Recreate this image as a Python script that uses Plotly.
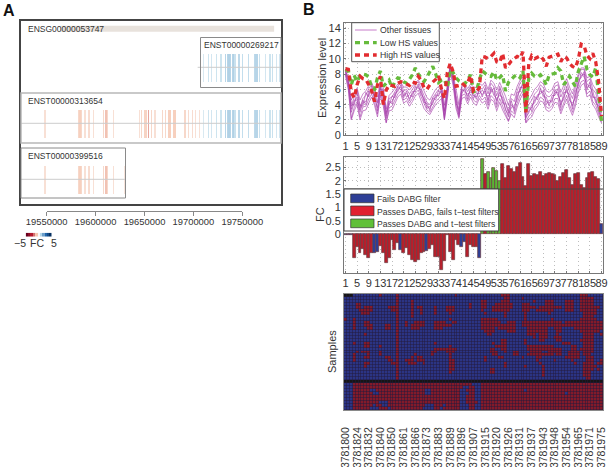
import plotly.graph_objects as go

W, H = 610, 467
FONT = "Liberation Sans"

# ---------- Panel A data ----------
gene_name = "ENSG00000053747"
gene_span = [19564000, 19782000]
tx_names = ["ENST00000269217", "ENST00000313654", "ENST00000399516"]
tx_spans = [[19704000, 19789000], [19523800, 19789000], [19523800, 19630000]]
tx_tracks = [3, 2, 1]
axis_ticks_a = [19550000, 19600000, 19650000, 19700000, 19750000]

exons_left = [19548260, 19582270, 19583970, 19585670, 19589075, 19593160, 19597580,
              19607780, 19610500, 19612200, 19617980]
fc_left = [-0.6, -0.8, -1.0, -0.8, -0.6, -0.7, -0.6, -0.8, -1.2, -0.8, -0.6]
exons_mid = [19644510, 19646890, 19650290, 19651990, 19653700, 19657100, 19660500,
             19668320, 19671040, 19674100, 19675800, 19679200, 19680900,
             19691100, 19694500, 19698580, 19701980, 19705720]
fc_mid = [-0.6, -0.8, -0.9, -0.9, -1.6, -0.8, -0.6, -0.8, -0.8, -1.0, -1.0, -1.0, -1.0,
          -0.8, -0.7, -0.7, -0.6, -0.6]
exons_right = [19709810, 19714910, 19718310, 19723410, 19727830, 19732590, 19734290,
               19735990, 19737690, 19739390, 19740420, 19742120, 19746200, 19749940,
               19755720, 19761840, 19763540, 19765240, 19766940, 19773400, 19777820,
               19780540, 19784620, 19788020]
fc_right = [0.6, 0.8, 0.7, 0.8, 0.8, 1.2, 1.2, 1.3, 1.2, 1.2, 1.3, 0.9, 1.1, 1.0,
            1.0, 1.1, 1.2, 1.2, 0.9, 0.7, 0.8, 0.9, 0.7, 0.7]
exons_extra = [19629500]
fc_extra = [-0.5]
fc_scale_values = [-5, -4, -3, -2, -1, 0, 1, 2, 3, 4, 5]

# ---------- Panel B data ----------
probe_index = list(range(1, 90))
tick_index = [1, 5, 9, 13, 17, 21, 25, 29, 33, 37, 41, 45, 49, 53, 57, 61, 65, 69, 73, 77, 81, 85, 89]
probe_ids = ["3781800", "3781824", "3781832", "3781840", "3781850", "3781861", "3781866", "3781873",
             "3781883", "3781889", "3781896", "3781907", "3781915", "3781920", "3781926", "3781931",
             "3781937", "3781943", "3781948", "3781954", "3781965", "3781971", "3781975"]

low_hs = [8.6, 8.4, 6.6, 7.8, 7.0, 7.8, 8.0, 7.9, 7.6, 6.2,
          6.0, 7.5, 8.4, 6.4, 6.8, 7.2, 6.2, 7.0, 7.5, 7.4,
          7.0, 6.8, 7.3, 7.9, 8.8, 8.0, 7.5, 7.0, 7.6, 8.2,
          9.0, 8.0, 6.9, 7.2, 7.3, 6.2, 8.6, 8.2, 7.5, 7.1,
          6.9, 6.7, 7.3, 7.9, 5.7, 5.8, 7.2, 8.4, 8.1, 7.8,
          7.7, 8.3, 7.2, 7.6, 7.9, 5.8, 6.9, 7.3, 7.7, 7.9,
          7.5, 8.4, 3.0, 7.5, 8.1, 7.7, 7.6, 7.9, 7.4, 6.6,
          7.9, 8.0, 8.1, 8.8, 8.4, 6.6, 7.2, 7.7, 7.0, 6.4,
          8.3, 9.4, 10.3, 8.6, 7.9, 7.6, 8.8, 5.3, 1.8]
high_hs = [8.7, 8.6, 5.6, 4.9, 6.6, 7.7, 7.4, 7.3, 6.6, 5.8,
           4.4, 6.6, 7.7, 4.0, 5.9, 6.6, 6.5, 6.4, 6.8, 7.0,
           6.9, 6.7, 6.5, 7.0, 6.8, 7.7, 7.2, 6.2, 6.0, 6.6,
           6.9, 7.3, 7.8, 6.0, 4.8, 8.2, 9.4, 8.3, 6.4, 6.5,
           6.8, 6.5, 6.9, 7.8, 5.7, 5.7, 6.2, 10.3, 10.2, 10.0,
           10.3, 10.7, 9.6, 9.5, 10.7, 8.8, 9.2, 9.7, 10.0, 10.3,
           10.1, 10.9, 3.0, 9.4, 10.4, 10.0, 10.2, 10.4, 9.9, 9.0,
           10.2, 10.3, 10.5, 10.6, 9.6, 10.3, 10.1, 9.4, 9.0, 8.8,
           9.9, 11.9, 11.7, 10.4, 10.0, 10.7, 9.6, 7.0, 2.5]

tissue_a = [8.4, 7.0, 3.0, 4.3, 5.0, 3.0, 4.3, 4.4, 5.4, 6.0,
            5.0, 3.6, 6.2, 5.0, 2.2, 4.2, 4.4, 5.2, 6.0, 6.3,
            5.2, 5.5, 4.8, 5.4, 6.0, 6.4, 5.6, 4.6, 3.8, 3.5,
            4.4, 5.0, 5.4, 5.8, 2.6, 5.6, 8.9, 7.4, 4.6, 2.8,
            5.8, 5.9, 5.1, 5.9, 5.2, 5.0, 5.8, 5.3, 5.8, 4.6,
            6.0, 5.6, 4.5, 5.6, 4.6, 3.6, 2.4, 4.0, 3.5, 5.0,
            6.0, 6.6, 2.2, 3.2, 3.6, 4.6, 5.0, 5.8, 5.5, 4.4,
            4.2, 4.6, 5.6, 5.6, 4.0, 5.0, 6.0, 4.8, 3.8, 5.2,
            6.8, 7.8, 8.0, 6.2, 6.6, 5.2, 4.6, 3.4, 2.0]
tissue_b = [8.2, 6.6, 3.8, 5.0, 5.6, 3.6, 4.8, 5.2, 6.1, 6.6,
            5.6, 4.2, 6.8, 5.6, 2.8, 4.8, 5.0, 5.8, 6.4, 6.8,
            5.8, 6.0, 5.4, 6.0, 6.6, 7.0, 6.2, 5.2, 4.3, 4.0,
            4.9, 5.5, 6.0, 6.3, 3.2, 6.2, 9.2, 7.8, 5.2, 3.4,
            6.3, 6.4, 5.7, 6.4, 5.8, 5.6, 6.4, 6.0, 6.6, 5.4,
            6.8, 6.3, 5.2, 6.4, 5.4, 4.4, 3.2, 4.8, 4.4, 5.8,
            6.8, 7.3, 3.0, 4.0, 4.6, 5.4, 5.8, 6.6, 6.2, 5.2,
            5.0, 5.4, 6.4, 6.6, 5.0, 5.9, 6.9, 5.7, 4.8, 6.2,
            7.6, 8.6, 8.6, 7.0, 7.4, 6.0, 5.5, 4.2, 2.5]
tissue_c = [8.0, 6.2, 2.2, 3.6, 4.4, 2.4, 3.7, 3.8, 4.7, 5.4,
            4.3, 2.8, 5.6, 4.3, 1.7, 3.6, 3.8, 4.6, 5.4, 5.8,
            4.6, 4.9, 4.2, 4.8, 5.5, 5.9, 5.0, 4.0, 3.3, 3.0,
            3.8, 4.4, 4.8, 5.2, 2.1, 5.0, 8.5, 6.9, 3.9, 2.4,
            5.2, 5.4, 4.5, 5.4, 4.6, 4.3, 5.2, 4.6, 5.0, 3.9,
            5.2, 4.8, 3.7, 4.8, 3.8, 2.9, 1.9, 3.2, 2.8, 4.2,
            5.2, 5.9, 1.7, 2.5, 2.9, 3.8, 4.2, 5.0, 4.7, 3.7,
            3.5, 3.9, 4.8, 4.8, 3.2, 4.2, 5.2, 4.0, 3.0, 4.3,
            6.0, 7.0, 7.2, 5.4, 5.8, 4.4, 3.9, 2.8, 1.7]
tissue_d = [8.5, 7.3, 4.2, 3.9, 5.9, 3.9, 3.8, 5.6, 5.0, 6.5,
            4.6, 4.4, 6.0, 5.9, 3.0, 3.9, 5.1, 4.9, 6.4, 5.9,
            5.7, 5.0, 5.3, 5.0, 6.4, 6.1, 6.0, 4.3, 4.2, 3.2,
            4.9, 4.6, 5.9, 5.4, 3.1, 5.2, 8.8, 7.7, 4.2, 3.2,
            5.4, 6.3, 4.7, 6.3, 4.8, 5.5, 5.4, 5.9, 5.4, 5.1,
            5.6, 6.2, 4.1, 6.1, 4.2, 4.2, 2.9, 4.5, 3.1, 5.6,
            5.7, 7.0, 2.6, 3.7, 3.2, 5.1, 4.6, 6.2, 5.0, 5.0,
            3.8, 5.2, 5.2, 6.1, 3.6, 5.6, 5.6, 5.4, 3.4, 5.8,
            6.4, 8.2, 7.6, 6.7, 6.2, 5.8, 4.2, 3.9, 1.9]
tissue_e = [8.3, 6.8, 3.4, 4.6, 4.6, 3.3, 4.6, 4.0, 5.8, 5.6,
            5.3, 3.2, 6.5, 4.7, 2.5, 4.5, 4.1, 5.5, 5.7, 6.6,
            4.9, 5.8, 4.5, 5.7, 5.7, 6.7, 5.3, 4.9, 3.5, 3.8,
            4.1, 5.3, 5.1, 6.1, 2.3, 5.9, 9.0, 7.1, 5.0, 2.6,
            6.1, 5.6, 5.4, 5.6, 5.5, 4.7, 6.2, 5.0, 6.2, 4.2,
            6.3, 5.2, 4.8, 5.2, 5.0, 3.3, 2.7, 3.6, 3.9, 4.6,
            6.3, 6.2, 2.4, 2.9, 4.0, 4.2, 5.3, 5.4, 5.9, 4.0,
            4.6, 4.3, 6.0, 5.2, 4.4, 4.6, 6.4, 4.5, 4.2, 4.8,
            7.2, 7.5, 8.3, 5.9, 7.0, 4.9, 5.0, 3.1, 2.2]
tissue_f = [8.6, 7.5, 4.6, 5.5, 6.2, 4.6, 5.4, 5.8, 6.5, 6.9,
            6.0, 5.0, 7.0, 6.2, 3.4, 5.2, 5.6, 6.2, 6.7, 6.9,
            6.3, 6.3, 5.9, 6.4, 6.9, 7.2, 6.6, 5.8, 4.9, 4.6,
            5.4, 6.0, 6.4, 6.6, 3.9, 6.6, 9.3, 8.0, 5.8, 4.0,
            6.6, 6.7, 6.1, 6.7, 6.3, 6.2, 6.8, 6.5, 7.0, 6.0,
            7.2, 6.8, 5.9, 6.9, 6.0, 5.1, 3.9, 5.4, 5.2, 6.4,
            7.2, 7.6, 3.6, 4.6, 5.2, 6.0, 6.4, 7.0, 6.7, 5.8,
            5.6, 6.0, 6.8, 7.0, 5.6, 6.5, 7.4, 6.3, 5.4, 6.7,
            8.0, 8.8, 8.8, 7.5, 7.7, 6.6, 6.0, 4.8, 2.9]
tissue_g = [7.8, 5.9, 2.0, 3.2, 4.0, 2.0, 3.2, 3.3, 4.2, 5.0,
            3.9, 2.4, 5.2, 3.8, 1.6, 3.2, 3.3, 4.2, 5.0, 5.4,
            4.2, 4.5, 3.8, 4.4, 5.1, 5.5, 4.6, 3.5, 3.0, 2.7,
            3.4, 4.0, 4.4, 4.8, 2.0, 4.6, 8.2, 6.5, 3.5, 2.2,
            4.8, 5.0, 4.1, 5.0, 4.2, 3.9, 4.8, 4.2, 4.5, 3.4,
            4.7, 4.4, 3.2, 4.3, 3.3, 2.5, 1.8, 2.8, 2.3, 3.7,
            4.7, 5.4, 1.6, 2.1, 2.4, 3.3, 3.8, 4.5, 4.3, 3.3,
            3.1, 3.5, 4.3, 4.2, 2.8, 3.8, 4.7, 3.5, 2.6, 3.8,
            5.5, 6.5, 6.8, 5.0, 5.3, 4.0, 3.4, 2.4, 1.6]
other_tissues = [tissue_a, tissue_b, tissue_c, tissue_d, tissue_e, tissue_f, tissue_g]

fold_change = [-0.02, -0.03, -0.03, -0.92, -0.48, -0.73, -0.56, -0.80, -0.90, -0.70,
               -0.70, -0.68, -0.45, -0.73, -1.10, -0.92, -0.23, -0.62, -0.35, -0.60,
               -0.73, -0.54, -0.80, -0.98, -1.04, -0.98, -0.70, -0.66, -0.65, -0.58,
               -0.42, -0.85, -0.85, -1.36, -1.00, -0.04, -0.66, -0.98, -0.23, -0.42,
               -0.48, -0.29, -0.85, -0.40, -0.50, -0.48, -0.92,
               2.82, 2.26, 2.35, 2.10, 2.48, 2.38, 2.00, 2.63, 2.10, 2.57, 2.45, 2.33,
               2.54, 2.67, 2.13, 1.82, 2.64, 2.19, 2.26, 2.23, 2.35, 2.19, 2.25, 2.29,
               2.25, 2.23, 2.01, 2.16, 2.31, 2.41, 2.10, 1.85, 2.25, 2.29, 1.85, 1.72,
               2.10, 2.29, 2.35, 2.14, 2.06, 0.37]
fails_dabg = [1, 2, 3, 11, 12, 20, 29, 41, 42, 47, 89]
passes_both = [48, 50, 51, 52, 53, 54]

# red cells per heatmap row, as (first column, last column), zero based
heat_red = [
    [(12, 12), (18, 18), (38, 38), (54, 56), (81, 83)],
    [(18, 18), (55, 56), (61, 61), (81, 85)],
    [(18, 18), (23, 23), (47, 48), (54, 56), (65, 65), (69, 71), (76, 78), (81, 85)],
    [(4, 5), (18, 18), (23, 23), (43, 43), (47, 48), (52, 57), (61, 63), (69, 71), (76, 78), (81, 85)],
    [(4, 5), (7, 9), (15, 18), (23, 23), (25, 26), (31, 31), (35, 37), (43, 43), (47, 48), (51, 57), (61, 65), (67, 74), (76, 78), (81, 87)],
    [(5, 9), (16, 18), (23, 23), (26, 26), (31, 31), (35, 37), (47, 47), (51, 56), (61, 63), (66, 71), (76, 78), (81, 86)],
    [(6, 8), (18, 18), (23, 23), (26, 26), (31, 31), (36, 36), (48, 48), (55, 55), (62, 62), (70, 70), (82, 86)],
    [(18, 18), (23, 23), (55, 55), (62, 62), (82, 85)],
    [(0, 0), (3, 3), (18, 18), (36, 36), (47, 52), (62, 62), (71, 71), (81, 86)],
    [(3, 3), (7, 8), (18, 18), (21, 21), (24, 27), (31, 34), (37, 38), (47, 53), (56, 58), (61, 74), (76, 88)],
    [(3, 3), (7, 9), (14, 15), (18, 18), (21, 21), (23, 27), (31, 36), (47, 58), (61, 88)],
    [(3, 3), (8, 9), (14, 15), (18, 18), (23, 25), (31, 33), (47, 51), (53, 58), (63, 69), (72, 74), (79, 88)],
    [(18, 18), (48, 51), (56, 58), (63, 69), (73, 74), (81, 87)],
    [(7, 7), (18, 18), (49, 50), (63, 65), (67, 69), (73, 73), (82, 85), (88, 88)],
    [(18, 18), (65, 65), (67, 69), (72, 74), (82, 85)],
    [(18, 18), (54, 55), (62, 62), (67, 68), (73, 74), (81, 85)],
    [(3, 3), (7, 8), (18, 18), (31, 31), (51, 51), (54, 55), (62, 62), (75, 77), (82, 85)],
    [(7, 8), (12, 12), (18, 18), (36, 36), (52, 55), (63, 71), (78, 79), (82, 85)],
    [(18, 18), (31, 38), (50, 51), (54, 55), (63, 74), (78, 79), (81, 85)],
    [(4, 4), (6, 8), (12, 12), (18, 18), (30, 31), (35, 37), (50, 52), (55, 55), (58, 59), (64, 67), (70, 74), (77, 80), (82, 85)],
    [(3, 3), (8, 8), (12, 12), (18, 18), (24, 24), (30, 30), (36, 36), (51, 52), (58, 59), (63, 71), (73, 74), (77, 80), (82, 84)],
    [(3, 3), (7, 8), (14, 15), (18, 18), (23, 23), (25, 26), (36, 36), (48, 48), (53, 54), (61, 61), (66, 67), (76, 80), (83, 85)],
    [(3, 3), (15, 16), (18, 18), (21, 23), (25, 27), (36, 37), (48, 48), (66, 66), (72, 72), (78, 78), (83, 85), (88, 88)],
    [(7, 8), (16, 18), (22, 24), (27, 27), (36, 37), (55, 55), (67, 67), (79, 79), (82, 85), (87, 88)],
    [(7, 7), (18, 18), (36, 37), (55, 55), (62, 62), (68, 68), (82, 86)],
    [(18, 18), (36, 37), (50, 51), (68, 68), (82, 85), (87, 87)],
    [(18, 18), (36, 36), (50, 51), (68, 68), (82, 84)],
    [(18, 18), (68, 68), (82, 84)],
    [(18, 18), (83, 84)],
    [],
    [(3, 43), (47, 88)],
    [(3, 40), (43, 44), (47, 88)],
    [(3, 8), (11, 27), (30, 39), (42, 44), (47, 61), (63, 88)],
    [(3, 9), (12, 27), (30, 39), (43, 44), (47, 75), (77, 88)],
    [(3, 39), (42, 44), (47, 88)],
    [(3, 39), (42, 44), (47, 88)],
    [(3, 11), (15, 39), (42, 45), (47, 88)],
    [(3, 9), (11, 12), (15, 27), (31, 33), (35, 39), (43, 44), (47, 88)],
    [(3, 8), (12, 14), (16, 26), (31, 32), (34, 39), (43, 44), (47, 88)],
]
dark_rows = [29]
black_cells = [0, 1, 2]

# ---------- helpers ----------
def px(x):
    return x / W

def py(y):
    return 1 - y / H

def dom_x(a, b):
    return [a / W, b / W]

def dom_y(top, bottom):
    return [1 - bottom / H, 1 - top / H]

FC_SCALE = [[0, "#67001f"], [0.2, "#b2182b"], [0.4, "#f5c4ae"], [0.5, "#f7f7f7"],
            [0.6, "#b4d6e8"], [0.8, "#2166ac"], [1, "#053061"]]
TEXT = "#333333"
fig = go.Figure()

# ---------- Panel A traces ----------
def add_exons(pos, fc, track):
    half = 0.25
    fig.add_trace(go.Bar(x=pos, y=[2 * half] * len(pos), base=[track - half] * len(pos),
                         width=[600] * len(pos), xaxis="x", yaxis="y", hoverinfo="skip",
                         marker=dict(color=fc, colorscale=FC_SCALE, cmin=-5, cmax=5, opacity=0.8, line=dict(width=0))))

for span, track in zip(tx_spans, tx_tracks):
    fig.add_trace(go.Scatter(x=span, y=[track, track], mode="lines", xaxis="x", yaxis="y",
                             hoverinfo="skip", line=dict(color="#cccccc", width=1)))
fig.add_trace(go.Scatter(x=gene_span, y=[3.69, 3.69], mode="lines", xaxis="x", yaxis="y",
                         hoverinfo="skip", line=dict(color="#e8e2dc", width=6)))
add_exons(exons_right, fc_right, 3)
add_exons(exons_left + exons_mid + exons_right, fc_left + fc_mid + fc_right, 2)
add_exons(exons_left + exons_extra, fc_left + fc_extra, 1)

fig.add_trace(go.Scatter(x=axis_ticks_a, y=[0] * 5, mode="markers", xaxis="x2", yaxis="y2",
                         marker=dict(opacity=0), hoverinfo="skip"))
fig.add_trace(go.Heatmap(z=[fc_scale_values], x=fc_scale_values, xaxis="x6", yaxis="y6",
                         colorscale=FC_SCALE, zmin=-5, zmax=5, showscale=False, hoverinfo="skip"))

# ---------- Expression ----------
for i, series in enumerate(other_tissues):
    fig.add_trace(go.Scatter(x=probe_index, y=series, mode="lines", name="Other tissues",
                             xaxis="x3", yaxis="y3", hoverinfo="skip", opacity=0.9,
                             line=dict(color="#a840ac", width=0.7)))
fig.add_trace(go.Scatter(x=probe_index, y=low_hs, mode="lines", name="Low HS values",
                         xaxis="x3", yaxis="y3", hoverinfo="skip",
                         line=dict(color="#66bb3c", width=3.3, dash="5px,4px")))
fig.add_trace(go.Scatter(x=probe_index, y=high_hs, mode="lines", name="High HS values",
                         xaxis="x3", yaxis="y3", hoverinfo="skip",
                         line=dict(color="#e22c30", width=3.3, dash="5px,4px")))

# ---------- Fold change ----------
BLUE, RED, GREEN = "#2e3f96", "#b81f2b", "#5ab435"
bar_colors = [BLUE if i in fails_dabg else GREEN if i in passes_both else RED for i in probe_index]
fig.add_trace(go.Bar(x=probe_index, y=fold_change, width=1, xaxis="x4", yaxis="y4", hoverinfo="skip",
                     marker=dict(color=bar_colors, line=dict(color="#6a3a40", width=0.7))))

# ---------- Heat map ----------
heat_z = []
for r, runs in enumerate(heat_red):
    row = [2 if r in dark_rows else 0] * 89
    for a, b in runs:
        for c in range(a, b + 1):
            row[c] = 1
    heat_z.append(row)
for c in black_cells:
    heat_z[0][c] = 2
fig.add_trace(go.Heatmap(z=heat_z, x=probe_index, y=list(range(len(heat_z))), xaxis="x5", yaxis="y5",
                         zmin=0, zmax=2, showscale=False, xgap=0.5, ygap=0.5, hoverinfo="skip",
                         colorscale=[[0, "#2b3484"], [0.5, "#2b3484"], [0.5, "#831a2a"], [0.75, "#831a2a"],
                                     [0.75, "#161616"], [1, "#161616"]]))

# ---------- Annotations ----------
ann = []
def text(x, y, s, size=8.6, anchor="left", color=TEXT, angle=0, bold=False):
    ann.append(dict(x=px(x), y=py(y), xref="paper", yref="paper", text=f"<b>{s}</b>" if bold else s,
                    showarrow=False, xanchor=anchor, yanchor="middle", textangle=angle,
                    font=dict(family=FONT, size=size, color=color), borderpad=0, borderwidth=0))

text(8.5, 10, "A", 16, "center", "#111111", bold=True)
text(309, 9.5, "B", 16, "center", "#111111", bold=True)
text(28, 28.5, gene_name, 8.5)
text(203.5, 45.5, tx_names[0], 8.5)
text(28, 101, tx_names[1], 8.5)
text(28, 156, tx_names[2], 8.5)
text(19.5, 242.5, "\u22125", 10.5, "center")
text(37, 242.5, "FC", 10.5, "center")
text(53.5, 242.5, "5", 10.5, "center")
text(322, 78, "Expression level", 11, "center", angle=-90)
text(320, 215, "FC", 11, "center", angle=-90)
text(332, 352, "Samples", 11, "center", angle=-90)
text(380, 30, "Other tissues", 8.7)
text(380, 42.7, "Low HS values", 8.7)
text(380, 55, "High HS values", 8.7)
text(377.3, 199.3, "Fails DABG filter", 8.6)
text(377.3, 211.7, "Passes DABG, fails t\u2212test filters", 8.6)
text(377.3, 223.7, "Passes DABG and t\u2212test filters", 8.6)

# ---------- Shapes ----------
shapes = []
def rect(x0, y0, x1, y1, line="#888888", width=1, fill=None, layer="above"):
    shapes.append(dict(type="rect", xref="paper", yref="paper", x0=px(x0), x1=px(x1), y0=py(y0), y1=py(y1),
                       line=dict(color=line, width=width), fillcolor=fill or "rgba(0,0,0,0)", layer=layer))
def hline(x0, x1, y, color, width=1, dash="solid"):
    shapes.append(dict(type="line", xref="paper", yref="paper", x0=px(x0), x1=px(x1), y0=py(y), y1=py(y),
                       line=dict(color=color, width=width, dash=dash), layer="above"))

rect(21, 93, 281, 143, "#b8b8b8", 1.5)
rect(200.5, 37.5, 281, 87.5, "#8a8a8a", 1)
rect(21, 148, 125.5, 198, "#8a8a8a", 1)
# expression legend
rect(351.7, 22.7, 439.3, 61.7, "#555555", 1, "#ffffff")
hline(355, 376.7, 30, "#c77cca", 1)
hline(355, 376.7, 42.7, "#66bb3c", 3.3, "5px,4px")
hline(355, 376.7, 55, "#e22c30", 3.3, "5px,4px")
# fold change legend
hline(344, 603, 189, "#444444", 1)
rect(344, 189, 498.7, 231, "#444444", 1, "#ffffff")
rect(350.7, 194, 374, 202.7, "#333333", 0.7, BLUE)
rect(350.7, 206, 374, 215.7, "#333333", 0.7, "#e02030")
rect(350.7, 219, 374, 227.7, "#333333", 0.7, "#60c038")
# heat map backing (grid colour)
shapes.append(dict(type="rect", xref="x5", yref="y5", x0=0.5, x1=89.5, y0=-0.5, y1=len(heat_z) - 0.5,
                   fillcolor="#241a3c", line=dict(width=0), layer="below"))

# ---------- Layout ----------
GRID = "#bdbdbd"
def matlab_x(dom, anchor):
    return dict(domain=dom, anchor=anchor, range=[0.5, 89.5], tickmode="array", tickvals=tick_index,
                ticktext=[str(v) for v in tick_index], ticks="inside", ticklen=2, tickcolor="#777777",
                showgrid=True, gridcolor=GRID, griddash="1px,3px", gridwidth=1, zeroline=False,
                showline=True, linecolor="#777777", linewidth=1, mirror=True, automargin=False,
                tickfont=dict(family=FONT, size=11, color=TEXT), tickangle=0)

def matlab_y(dom, anchor, rng, vals, labels):
    return dict(domain=dom, anchor=anchor, range=rng, tickmode="array", tickvals=vals, ticktext=labels,
                ticks="inside", ticklen=2, tickcolor="#777777", showgrid=True, gridcolor=GRID,
                griddash="1px,3px", gridwidth=1, zeroline=False, showline=True, linecolor="#777777",
                linewidth=1, mirror=True, automargin=False, tickfont=dict(family=FONT, size=11, color=TEXT))

fig.update_layout(
    template="none",
    width=W, height=H, margin=dict(l=0, r=0, t=0, b=0, pad=0), autosize=False,
    paper_bgcolor="white", plot_bgcolor="white", showlegend=False, barmode="overlay", bargap=0,
    font=dict(family=FONT, color=TEXT), annotations=ann, shapes=shapes,
    xaxis=dict(domain=dom_x(21, 281), anchor="y", range=[19523800, 19789000], showticklabels=False, automargin=False,
               ticks="", showgrid=False, zeroline=False, showline=True, linecolor="#444444", linewidth=1.5, mirror=True),
    yaxis=dict(domain=dom_y(20.7, 204), anchor="x", range=[0.559, 3.832], showticklabels=False, automargin=False,
               ticks="", showgrid=False, zeroline=False, showline=True, linecolor="#444444", linewidth=1.5, mirror=True),
    xaxis2=dict(domain=dom_x(46.7, 242.3), anchor="y2", range=[19550000, 19750000], tickmode="array", automargin=False,
                tickvals=axis_ticks_a, ticktext=[str(v) for v in axis_ticks_a], ticks="outside", ticklen=4,
                tickcolor="#888888", showline=True, linecolor="#888888", linewidth=1, showgrid=False, zeroline=False,
                ticklabelstandoff=-2, tickfont=dict(family=FONT, size=9.4, color=TEXT), tickangle=0),
    yaxis2=dict(domain=dom_y(207, 211), anchor="x2", visible=False, range=[-1, 1], automargin=False),
    xaxis6=dict(domain=dom_x(25.7, 51.7), anchor="y6", visible=False, automargin=False),
    yaxis6=dict(domain=dom_y(232.7, 236.7), anchor="x6", visible=False, automargin=False),
    xaxis3=matlab_x(dom_x(344, 603), "y3"),
    yaxis3=matlab_y(dom_y(22.7, 135.3), "x3", [0, 14.7], [0, 2, 4, 6, 8, 10, 12, 14],
                    ["0", "2", "4", "6", "8", "10", "12", "14"]),
    xaxis4=matlab_x(dom_x(344, 603), "y4"),
    yaxis4=matlab_y(dom_y(157, 273), "x4", [-1.47, 2.9], [0, 0.5, 1, 1.5, 2, 2.5],
                    ["0", "0.5", "1", "1.5", "2", "2.5"]),
    xaxis5=dict(domain=dom_x(344, 603), anchor="y5", range=[0.5, 89.5], tickmode="array", tickvals=tick_index,
                ticktext=probe_ids, tickangle=-90, ticks="", ticklabelstandoff=12, showgrid=False, zeroline=False,
                showline=True, linecolor="#8a8a8a", linewidth=1, mirror=True, automargin=False,
                tickfont=dict(family=FONT, size=10.5, color=TEXT)),
    yaxis5=dict(domain=dom_y(294, 410), anchor="x5", range=[len(heat_z) - 0.5, -0.5], showticklabels=False, automargin=False,
                ticks="", showgrid=False, zeroline=False, showline=True, linecolor="#8a8a8a", linewidth=1, mirror=True),
)

fig.write_html("out.html", config={"displayModeBar": False},
               post_script="document.body.style.margin='0';document.documentElement.style.overflow='hidden';")
